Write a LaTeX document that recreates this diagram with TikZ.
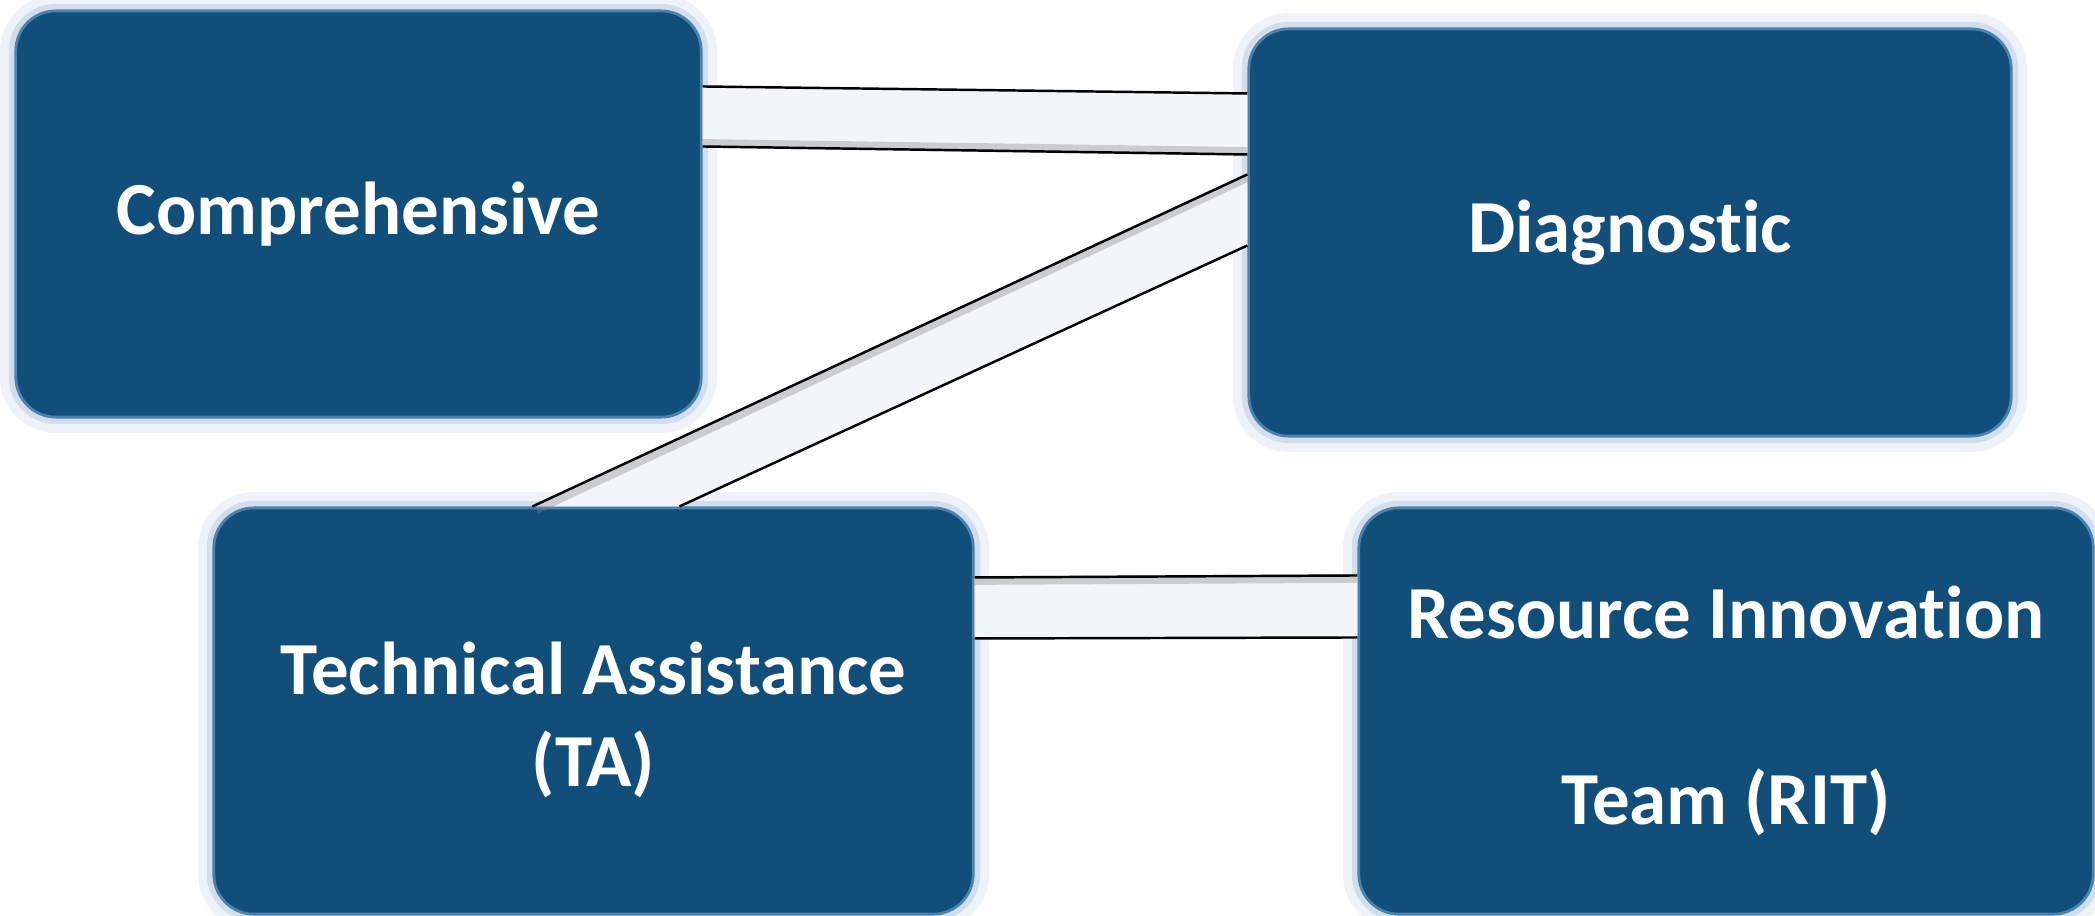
\documentclass[tikz,border=0pt]{standalone}
\usepackage{fontspec}
\setmainfont{Carlito}[Ligatures=NoCommon]
\usetikzlibrary{calc}
\definecolor{boxblue}{HTML}{124E7A}
\definecolor{boxedge}{HTML}{4A82B0}
\definecolor{glowblue}{HTML}{A9BEDC}
\definecolor{bandfill}{HTML}{F2F6FB}

\tikzset{
	box/.style={rounded corners=0.4cm, fill=boxblue, draw=boxedge, line width=0.8pt,
		text=white, font=\fontsize{21.3}{26}\selectfont\bfseries, align=center, inner sep=0pt,
		preaction={draw=glowblue, line width=9pt, opacity=0.18},
		preaction={draw=glowblue, line width=4pt, opacity=0.4}},
	band/.style={fill=bandfill},
	bandline/.style={draw=black, line width=0.7pt},
	bandshade/.style={draw=gray, line width=2.5pt, opacity=0.35},
}

\begin{document}
\begin{tikzpicture}[x=0.01cm, y=-0.01cm]
			%%%%% START %%%%%
			\useasboundingbox (0,0) rectangle (2095,916);
			
			\node[box, minimum width=6.85cm, minimum height=4.06cm] (comp) at (358.5,214) {Comprehensive};
			\node[box, minimum width=7.62cm, minimum height=4.07cm] (diag) at (1630,232.5) {Diagnostic};
			\node[box, minimum width=7.59cm, minimum height=4.06cm] (ta) at (593.5,711) {\\[-6pt]Technical Assistance\\(TA)};
			\node[box, minimum width=7.34cm, minimum height=4.06cm] (rit) at (1726,711) {Resource Innovation\\[0.95cm]Team (RIT)};
			
			% comprehensive - diagnostic
			\coordinate (cd1) at ($(comp.north east)+(0,77)$);
			\coordinate (cd2) at ($(comp.north east)+(0,137)$);
			\coordinate (cd3) at ($(diag.north west)+(0,66)$);
			\coordinate (cd4) at ($(diag.north west)+(0,127)$);
			\fill[band] (cd1) -- (cd3) -- (cd4) -- (cd2) -- cycle;
			\draw[bandshade] ($(cd2)+(0,-3)$) -- ($(cd4)+(0,-3)$);
			\draw[bandline] (cd1) -- (cd3);
			\draw[bandline] (cd2) -- (cd4);
			
			% technical assistance - diagnostic
			\coordinate (td1) at ($(ta.north west)+(320,0)$);
			\coordinate (td2) at ($(ta.north west)+(467,0)$);
			\coordinate (td3) at ($(diag.north west)+(0,147)$);
			\coordinate (td4) at ($(diag.north west)+(0,218)$);
			\fill[band] (td1) -- (td3) -- (td4) -- (td2) -- cycle;
			\draw[bandshade] ($(td1)+(4,3)$) -- ($(td3)+(0,3)$);
			\draw[bandline] (td1) -- (td3);
			\draw[bandline] (td2) -- (td4);
			
			% technical assistance - resource innovation
			\coordinate (tr1) at ($(ta.north east)+(0,71)$);
			\coordinate (tr2) at ($(ta.north east)+(0,132)$);
			\coordinate (tr3) at ($(rit.north west)+(0,69)$);
			\coordinate (tr4) at ($(rit.north west)+(0,131)$);
			\fill[band] (tr1) -- (tr3) -- (tr4) -- (tr2) -- cycle;
			\draw[bandshade] ($(tr1)+(0,3)$) -- ($(tr3)+(0,3)$);
			\draw[bandline] (tr1) -- (tr3);
			\draw[bandline] (tr2) -- (tr4);
			
			%%%%% END %%%%%
\end{tikzpicture}
\end{document}
